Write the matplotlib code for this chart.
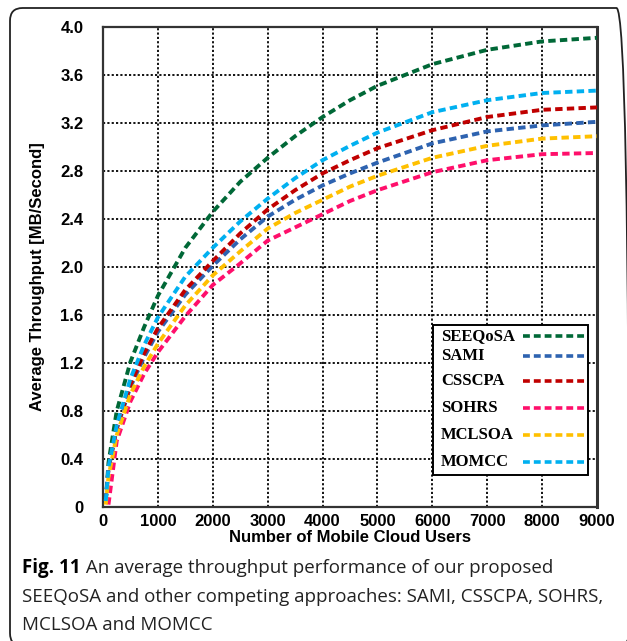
import matplotlib
matplotlib.use("Agg")
import matplotlib.pyplot as plt
from matplotlib.patches import FancyBboxPatch, Rectangle
from matplotlib.lines import Line2D
import numpy as np

# ---------------- data ----------------
users = [50, 100, 250, 500, 750, 1000, 1500, 2000, 2500, 3000, 3500, 4000, 4500, 5000, 6000, 7000, 8000, 9000]

seeqosa = [0.05, 0.37, 0.80, 1.21, 1.50, 1.76, 2.16, 2.46, 2.71, 2.91, 3.09, 3.25, 3.39, 3.51, 3.69, 3.81, 3.88, 3.91]
sami    = [0.05, 0.32, 0.65, 1.00, 1.25, 1.46, 1.77, 2.01, 2.23, 2.42, 2.56, 2.68, 2.78, 2.87, 3.03, 3.13, 3.18, 3.21]
csscpa  = [0.05, 0.32, 0.66, 1.02, 1.28, 1.49, 1.81, 2.05, 2.28, 2.48, 2.64, 2.78, 2.89, 2.99, 3.14, 3.25, 3.31, 3.33]
sohrs   = [np.nan, 0.02, 0.55, 0.88, 1.11, 1.29, 1.59, 1.85, 2.03, 2.22, 2.33, 2.44, 2.55, 2.64, 2.79, 2.89, 2.94, 2.95]
mclsoa  = [0.02, 0.25, 0.60, 0.94, 1.17, 1.36, 1.68, 1.93, 2.13, 2.32, 2.45, 2.56, 2.67, 2.76, 2.91, 3.01, 3.07, 3.09]
momcc   = [0.05, 0.33, 0.68, 1.07, 1.35, 1.58, 1.92, 2.16, 2.38, 2.57, 2.74, 2.89, 3.01, 3.12, 3.29, 3.39, 3.45, 3.47]

series_names = ["SEEQoSA", "SAMI", "CSSCPA", "SOHRS", "MCLSOA", "MOMCC"]
series_values = [seeqosa, sami, csscpa, sohrs, mclsoa, momcc]
series_colors = ["#006837", "#2E63B0", "#C00000", "#FF0F6B", "#FFC000", "#00B0F0"]

x_ticks = [0, 1000, 2000, 3000, 4000, 5000, 6000, 7000, 8000, 9000]
y_ticks = [0, 0.4, 0.8, 1.2, 1.6, 2.0, 2.4, 2.8, 3.2, 3.6, 4.0]
y_tick_labels = ["0", "0.4", "0.8", "1.2", "1.6", "2.0", "2.4", "2.8", "3.2", "3.6", "4.0"]

x_label = "Number of Mobile Cloud Users"
y_label = "Average Throughput [MB/Second]"
caption_bold = "Fig. 11"
caption_lines = [" An average throughput performance of our proposed",
                 "SEEQoSA and other competing approaches: SAMI, CSSCPA, SOHRS,",
                 "MCLSOA and MOMCC"]

# ---------------- figure ----------------
W, H = 627, 641
fig = plt.figure(figsize=(W / 100, H / 100), dpi=100)

# rounded frame around the figure (right and bottom edges fall outside the image)
frame = FancyBboxPatch((10 / W, 1 - 646 / H), (629 - 10) / W, (646 - 8) / H,
                       boxstyle="round,pad=0,rounding_size=0.02",
                       transform=fig.transFigure, fill=False,
                       edgecolor="#222222", linewidth=1.3, clip_on=False)
fig.patches.append(frame)

ax = fig.add_axes([103 / W, 1 - 507 / H, (597 - 103) / W, (507 - 27) / H])

dash = (0, (1.9, 1.1))
for name, vals, col in zip(series_names, series_values, series_colors):
    ax.plot(users, vals, color=col, lw=2.8, linestyle=dash, dash_capstyle="butt",
            solid_joinstyle="round", zorder=3, label=name)

ax.set_xlim(0, 9000)
ax.set_ylim(0, 4.0)
ax.set_xticks(x_ticks)
ax.set_yticks(y_ticks)
ax.set_yticklabels(y_tick_labels)
ax.grid(True, color="black", linestyle=(0, (1.2, 1.2)), linewidth=1.3, zorder=1)
ax.tick_params(axis="both", length=0, labelsize=12)
ax.tick_params(axis="y", pad=14)
ax.tick_params(axis="x", pad=5)
for lab in ax.get_xticklabels() + ax.get_yticklabels():
    lab.set_fontfamily("Liberation Sans")
    lab.set_fontweight("bold")
for sp in ax.spines.values():
    sp.set_color("#333333")
    sp.set_linewidth(1.6)
ax.spines["right"].set_linewidth(2.2)

ax.set_xlabel(x_label, fontsize=12, fontweight="bold", family="Liberation Sans", labelpad=1)
ax.set_ylabel(y_label, fontsize=12, fontweight="bold", family="Liberation Sans", labelpad=7)
ax.yaxis.set_label_coords(-0.118, 0.48)

# ---------------- legend (manual, text left / line right) ----------------
lx0, lx1 = (433 - 103) / 494, (588 - 103) / 494
ly0, ly1 = (507 - 475) / 480, (507 - 325) / 480
ax.add_patch(Rectangle((lx0, ly0), lx1 - lx0, ly1 - ly0, transform=ax.transAxes,
                       facecolor="white", edgecolor="black", linewidth=1.4, zorder=5))
entry_y = [336, 356, 381, 408, 435, 462]
for name, col, py in zip(series_names, series_colors, entry_y):
    yy = (507 - py) / 480
    ax.text((441 - 103) / 494, yy, name, transform=ax.transAxes, fontsize=12,
            fontweight="bold", family="Liberation Serif", va="center", ha="left", zorder=6)
    ax.add_line(Line2D([(523 - 103) / 494, (587 - 103) / 494], [yy, yy], transform=ax.transAxes,
                       color=col, lw=2.6, linestyle=dash, zorder=6))

# ---------------- caption ----------------
cap_fs = 13.5
cap_family = "Open Sans"
baselines = [573, 602, 630]
t0 = fig.text(22 / W, 1 - baselines[0] / H, caption_bold, fontsize=cap_fs, fontweight="bold",
              family=cap_family, va="baseline", ha="left")
fig.canvas.draw()
bb = t0.get_window_extent(renderer=fig.canvas.get_renderer())
fig.text(bb.x1 / W, 1 - baselines[0] / H, caption_lines[0], fontsize=cap_fs, family=cap_family,
         va="baseline", ha="left", color="#222222")
for line, y in zip(caption_lines[1:], baselines[1:]):
    fig.text(22 / W, 1 - y / H, line, fontsize=cap_fs, family=cap_family, va="baseline",
             ha="left", color="#222222")

fig.savefig("out.png", dpi=100)
